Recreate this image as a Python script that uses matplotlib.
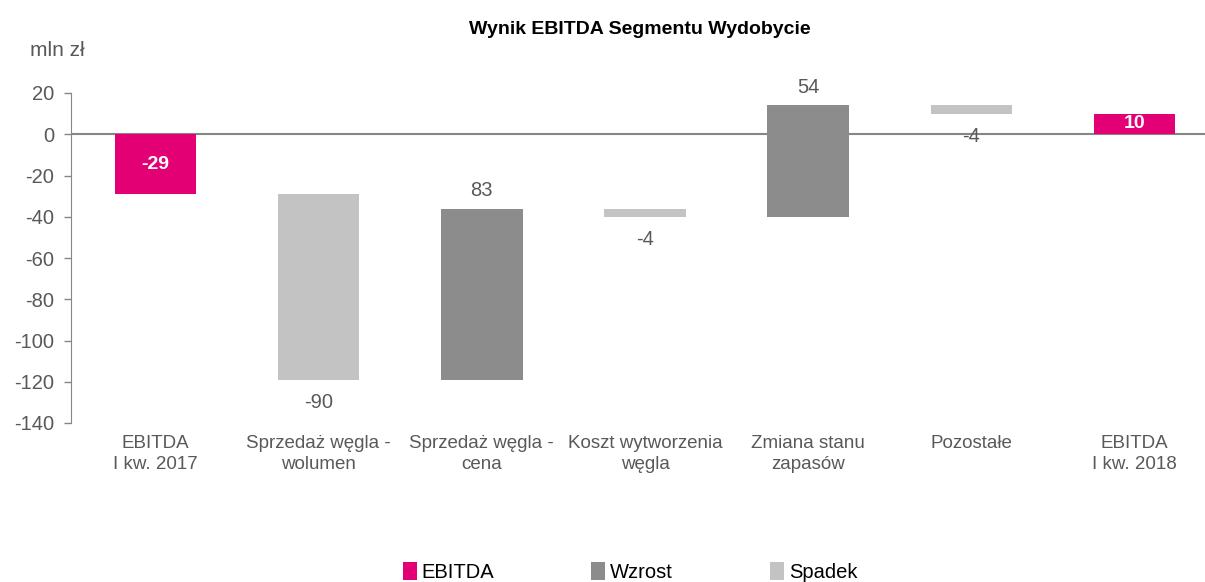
import matplotlib.pyplot as plt
import numpy as np
from matplotlib.patches import Patch

plt.rcParams["font.family"] = ["Liberation Sans", "DejaVu Sans"]

categories = ["EBITDA\nI kw. 2017", "Sprzedaż węgla -\nwolumen", "Sprzedaż węgla -\ncena",
              "Koszt wytworzenia\nwęgla", "Zmiana stanu\nzapasów", "Pozostałe", "EBITDA\nI kw. 2018"]
changes = [-29, -90, 83, -4, 54, -4, 10]
kinds = ["total", "delta", "delta", "delta", "delta", "delta", "total"]
yticks = [20, 0, -20, -40, -60, -80, -100, -120, -140]

colors = {"EBITDA": "#E20074", "Wzrost": "#8C8C8C", "Spadek": "#C3C3C3"}
text_grey = "#595959"

# waterfall geometry from the data
bottoms, tops = [], []
running = 0
for v, k in zip(changes, kinds):
    if k == "total":
        start, end = 0, v
        running = v
    else:
        start, end = running, running + v
        running = end
    bottoms.append(min(start, end))
    tops.append(max(start, end))

fig = plt.figure(figsize=(12.05, 5.82), dpi=100)
ax = fig.add_axes([71 / 1205, 159 / 582, 1 - 71 / 1205, 330 / 582])

x = np.arange(len(categories))
for i, (v, k) in enumerate(zip(changes, kinds)):
    if k == "total":
        c = colors["EBITDA"]
    elif v > 0:
        c = colors["Wzrost"]
    else:
        c = colors["Spadek"]
    ax.bar(x[i], tops[i] - bottoms[i], bottom=bottoms[i], width=0.5, color=c, zorder=2)

    if k == "total":
        ax.text(x[i], (tops[i] + bottoms[i]) / 2, f"{v}", ha="center", va="center",
                color="white", fontsize=14, fontweight="bold", zorder=3)
    elif v > 0:
        ax.text(x[i], tops[i] + 4, f"{v}", ha="center", va="bottom",
                color=text_grey, fontsize=14.5, zorder=3)
    else:
        ax.text(x[i], bottoms[i] - 6.5, f"{v}", ha="center", va="top",
                color=text_grey, fontsize=14.5, zorder=3)

ax.axhline(0, color="#868686", linewidth=1.5, zorder=1)

ax.set_ylim(-140, 20)
ax.set_xlim(-0.518, 6.432)
ax.set_yticks(yticks)
ax.set_yticklabels([str(t) for t in yticks], fontsize=14.5, color=text_grey)
ax.tick_params(axis="y", direction="out", length=5, color="#868686", width=1, pad=7)
ax.set_xticks(x)
ax.set_xticklabels(categories, fontsize=13.5, color=text_grey, linespacing=1.3)
ax.tick_params(axis="x", length=0, pad=9)

for s in ["top", "right", "bottom"]:
    ax.spines[s].set_visible(False)
ax.spines["left"].set_color("#868686")

fig.text(640 / 1205, 1 - 29 / 582, "Wynik EBITDA Segmentu Wydobycie", ha="center", va="center",
         fontsize=14, fontweight="bold", color="black")
fig.text(30 / 1205, 1 - 50 / 582, "mln zł", ha="left", va="center", fontsize=15, color=text_grey)

handles = [Patch(facecolor=colors[n], label=n) for n in ["EBITDA", "Wzrost", "Spadek"]]
fig.legend(handles=handles, loc="center", bbox_to_anchor=(630 / 1205, 1 - 572 / 582), ncol=3,
           frameon=False, fontsize=14.5, handlelength=0.7, handleheight=1.0,
           handletextpad=0.25, columnspacing=4.8)

fig.savefig("out.png", dpi=100)
